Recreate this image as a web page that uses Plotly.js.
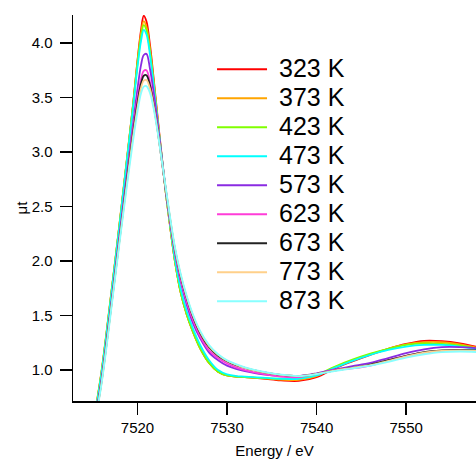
<!DOCTYPE html>
<html>
<head>
<meta charset="utf-8">
<script src="https://cdn.plot.ly/plotly-3.0.1.min.js"></script>
<style>html,body{margin:0;padding:0;background:#fff;}#chart{width:476px;height:459px;}</style>
</head>
<body>
<div id="chart"></div>
<script>
// Energy grid (eV)
var energy = [7515.5, 7516, 7516.5, 7517, 7517.5, 7518, 7518.5, 7519, 7519.5, 7520, 7520.4, 7520.7, 7521, 7521.4, 7521.8, 7522.2, 7522.7, 7523.2, 7523.7, 7524.2, 7524.8, 7525.5, 7526.2, 7527, 7528, 7529, 7530, 7531, 7532, 7534, 7536, 7538, 7540, 7542, 7544, 7546, 7548, 7550, 7552, 7554, 7556, 7558];

var labels = ["323 K", "373 K", "423 K", "473 K", "573 K", "623 K", "673 K", "773 K", "873 K"];
var colors = ["#ff0000", "#ffa500", "#80ff00", "#00ffff", "#8a2be2", "#ff3cd8", "#222222", "#ffd08a", "#88ffff"];

var mu323 = [0.72, 0.99, 1.31, 1.65, 1.99, 2.34, 2.70, 3.06, 3.43, 3.84, 4.12, 4.25, 4.20, 3.98, 3.68, 3.36, 2.97, 2.60, 2.28, 1.99, 1.72, 1.51, 1.35, 1.20, 1.065, 0.985, 0.95, 0.94, 0.935, 0.922, 0.905, 0.90, 0.935, 1.015, 1.08, 1.14, 1.195, 1.24, 1.268, 1.265, 1.245, 1.21];
var mu373 = [0.73, 1.00, 1.32, 1.66, 2.00, 2.35, 2.71, 3.07, 3.43, 3.83, 4.09, 4.20, 4.15, 3.94, 3.65, 3.34, 2.96, 2.60, 2.28, 1.99, 1.72, 1.51, 1.35, 1.20, 1.065, 0.985, 0.95, 0.94, 0.935, 0.925, 0.912, 0.91, 0.945, 1.025, 1.09, 1.145, 1.195, 1.235, 1.255, 1.255, 1.235, 1.205];
var mu423 = [0.72, 0.99, 1.31, 1.65, 1.99, 2.34, 2.70, 3.06, 3.42, 3.81, 4.06, 4.165, 4.12, 3.92, 3.64, 3.33, 2.96, 2.60, 2.28, 1.99, 1.72, 1.51, 1.35, 1.20, 1.065, 0.985, 0.95, 0.94, 0.935, 0.925, 0.92, 0.925, 0.955, 1.03, 1.095, 1.15, 1.195, 1.23, 1.245, 1.24, 1.225, 1.195];
var mu473 = [0.71, 0.98, 1.30, 1.64, 1.98, 2.33, 2.69, 3.05, 3.40, 3.78, 4.02, 4.12, 4.08, 3.89, 3.62, 3.32, 2.96, 2.61, 2.30, 2.01, 1.75, 1.54, 1.38, 1.23, 1.09, 1.00, 0.96, 0.945, 0.94, 0.93, 0.92, 0.92, 0.95, 1.02, 1.085, 1.14, 1.185, 1.215, 1.23, 1.23, 1.215, 1.19];
var mu573 = [0.66, 0.92, 1.23, 1.56, 1.90, 2.24, 2.58, 2.92, 3.25, 3.58, 3.80, 3.89, 3.90, 3.76, 3.55, 3.30, 2.96, 2.63, 2.33, 2.07, 1.82, 1.60, 1.43, 1.29, 1.16, 1.09, 1.04, 1.01, 0.99, 0.96, 0.945, 0.945, 0.97, 1.005, 1.035, 1.065, 1.11, 1.155, 1.19, 1.21, 1.21, 1.20];
var mu623 = [0.65, 0.91, 1.22, 1.55, 1.88, 2.22, 2.55, 2.88, 3.20, 3.49, 3.67, 3.745, 3.75, 3.64, 3.46, 3.24, 2.93, 2.62, 2.33, 2.08, 1.84, 1.63, 1.46, 1.31, 1.18, 1.11, 1.06, 1.025, 1.00, 0.965, 0.94, 0.935, 0.965, 1.00, 1.015, 1.04, 1.09, 1.13, 1.16, 1.175, 1.18, 1.175];
var mu673 = [0.645, 0.90, 1.21, 1.54, 1.87, 2.20, 2.53, 2.86, 3.17, 3.45, 3.63, 3.70, 3.705, 3.61, 3.44, 3.23, 2.93, 2.63, 2.35, 2.10, 1.87, 1.66, 1.49, 1.34, 1.21, 1.13, 1.08, 1.045, 1.02, 0.98, 0.955, 0.945, 0.965, 0.995, 1.02, 1.05, 1.09, 1.13, 1.165, 1.18, 1.185, 1.18];
var mu773 = [0.64, 0.89, 1.20, 1.53, 1.86, 2.19, 2.51, 2.83, 3.14, 3.41, 3.59, 3.655, 3.66, 3.58, 3.42, 3.22, 2.93, 2.64, 2.36, 2.11, 1.88, 1.67, 1.50, 1.35, 1.22, 1.14, 1.085, 1.05, 1.02, 0.98, 0.955, 0.945, 0.965, 0.995, 1.02, 1.045, 1.085, 1.125, 1.16, 1.175, 1.18, 1.175];
var mu873 = [0.63, 0.88, 1.18, 1.51, 1.84, 2.17, 2.49, 2.80, 3.10, 3.37, 3.54, 3.60, 3.605, 3.54, 3.40, 3.21, 2.93, 2.65, 2.37, 2.12, 1.89, 1.68, 1.51, 1.36, 1.23, 1.145, 1.09, 1.055, 1.025, 0.985, 0.958, 0.945, 0.962, 0.99, 1.015, 1.04, 1.075, 1.115, 1.145, 1.165, 1.17, 1.165];

var series = [mu323, mu373, mu423, mu473, mu573, mu623, mu673, mu773, mu873];

var xTicks = [7520, 7530, 7540, 7550];
var yTicks = [1.0, 1.5, 2.0, 2.5, 3.0, 3.5, 4.0];

var traces = series.map(function (ys, i) {
  return {
    x: energy, y: ys, type: 'scatter', mode: 'lines',
    name: '<span style="font-size:25px">&nbsp;' + labels[i] + '</span>',
    line: {color: colors[i], width: 1.8, shape: 'spline', smoothing: 1}
  };
});

var tickFont = {family: 'Liberation Sans, Arial, sans-serif', size: 15, color: '#000'};

var layout = {
  width: 476, height: 459,
  margin: {l: 73, r: 0, t: 15, b: 58, pad: 0},
  paper_bgcolor: '#fff', plot_bgcolor: '#fff',
  showlegend: true,
  legend: {
    x: 0.345, y: 0.91, xanchor: 'left', yanchor: 'top',
    bgcolor: 'rgba(0,0,0,0)', borderwidth: 0,
    font: {family: 'Liberation Sans, Arial, sans-serif', size: 20, color: '#000'},
    itemwidth: 50, tracegroupgap: 0
  },
  xaxis: {
    range: [7512.8, 7557.8], tickvals: xTicks, ticktext: xTicks.map(String),
    ticks: 'outside', ticklen: 12, tickwidth: 1.5, tickcolor: '#000',
    showline: true, linecolor: '#000', linewidth: 1.5,
    showgrid: false, zeroline: false, tickfont: tickFont,
    title: {text: 'Energy / eV', font: tickFont, standoff: 12}
  },
  yaxis: {
    range: [0.716, 4.257], tickvals: yTicks, ticktext: yTicks.map(function (v) { return v.toFixed(1); }),
    ticks: 'outside', ticklen: 12, tickwidth: 1.5, tickcolor: '#000',
    ticklabelstandoff: 4,
    showline: true, linecolor: '#000', linewidth: 1.5,
    showgrid: false, zeroline: false, tickfont: tickFont,
    title: {text: 'μt', font: tickFont, standoff: 0}
  }
};

Plotly.newPlot('chart', traces, layout, {displayModeBar: false, staticPlot: true});
</script>
</body>
</html>
